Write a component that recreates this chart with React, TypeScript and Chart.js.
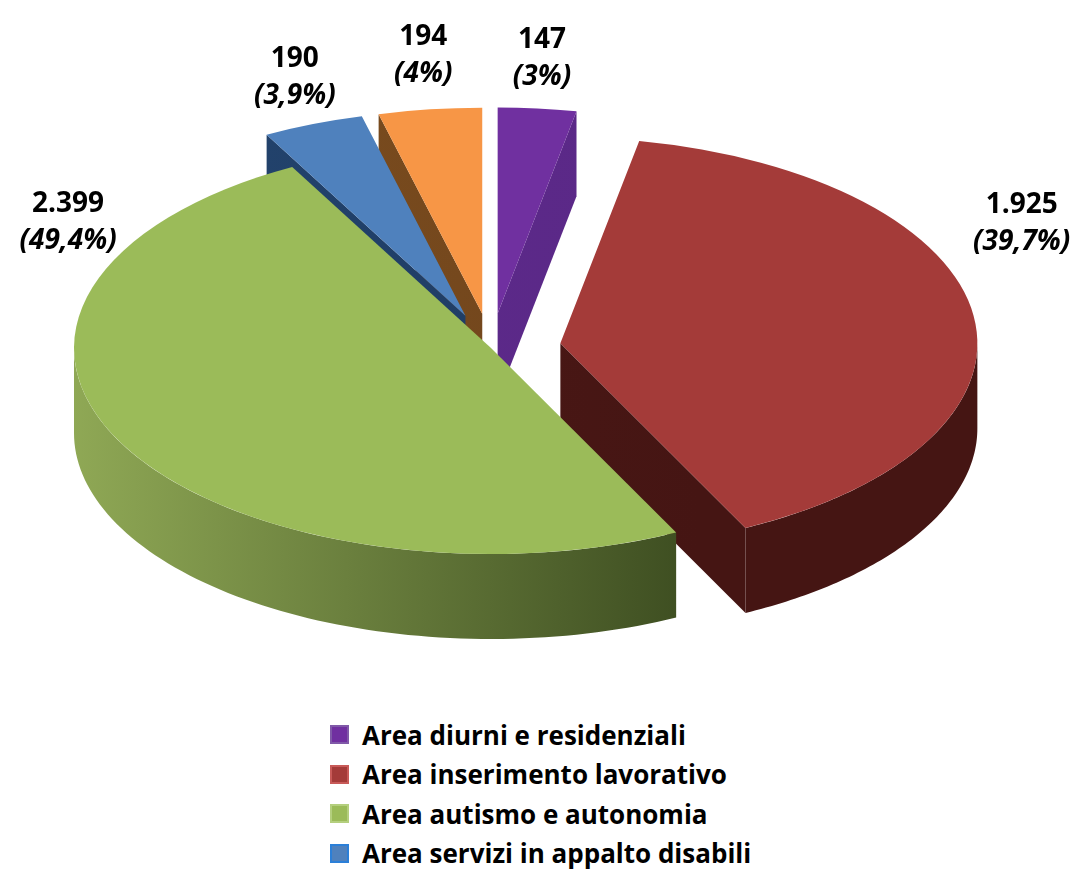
import React, { useEffect, useRef } from "react";
import { Chart, registerables } from "chart.js";

Chart.register(...registerables);

// ---------- data ----------
const categories = [
  "Area diurni e residenziali",
  "Area inserimento lavorativo",
  "Area autismo e autonomia",
  "Area servizi in appalto disabili",
  "Altro",
];
const values = [147, 1925, 2399, 190, 194];
const pctLabels = ["3%", "39,7%", "49,4%", "3,9%", "4%"];
const inLegend = [true, true, true, true, false];

// ---------- style ----------
const topColors = ["#7030A0", "#A43B39", "#9BBB59", "#4F81BD", "#F79646"];
const sideLight = ["#5E2B8E", "#501B19", "#8FA855", "#244570", "#80501F"];
const sideDark = ["#5A2886", "#451513", "#3C4C20", "#1D3A60", "#6E431C"];
const legendBorders = ["#8059A8", "#C85A58", "#B4CF7E", "#2B7FD8", "#F9A868"];
const explode = [70, 70, 0, 70, 70];
const drawLast = 2; // the big front slice is painted over the small ones
const labelAngleDeg: (number | null)[] = [null, 66, 298, null, null];
const labelGap = [50, 88, 62, 50, 54];

const FONT = "'Open Sans'";
const K = 0.494; // vertical squash of the pie (tilt)
const DEPTH = 85; // thickness in screen px
const RADIUS = 417;

function fmtNum(v: number): string {
  return String(v).replace(/\B(?=(\d{3})+(?!\d))/g, ".");
}

function shiftOf(el: any, i: number) {
  const mid = (el.startAngle + el.endAngle) / 2;
  return { tx: Math.cos(mid) * explode[i], ty: Math.sin(mid) * explode[i] };
}

function pt(el: any, s: { tx: number; ty: number }, a: number, r: number, dy = 0) {
  return {
    x: el.x + s.tx + r * Math.cos(a),
    y: el.y + (s.ty + r * Math.sin(a)) * K + dy,
  };
}

const pie3d = {
  id: "pie3d",
  beforeDatasetsDraw(chart: any) {
    const ctx = chart.ctx as CanvasRenderingContext2D;
    const meta = chart.getDatasetMeta(0);
    const els = meta.data as any[];
    const order = els
      .map((el, i) => ({ el, i, m: Math.sin((el.startAngle + el.endAngle) / 2) }))
      .sort((a, b) => a.m - b.m);

    // sides
    ctx.save();
    for (const { el, i } of order) {
      const s = shiftOf(el, i);
      const R = el.outerRadius;
      const g = ctx.createLinearGradient(el.x - R, 0, el.x + R, 0);
      g.addColorStop(0, sideLight[i]);
      g.addColorStop(0.75, sideDark[i]);
      g.addColorStop(1, sideDark[i]);
      ctx.fillStyle = g;
      const a1 = el.startAngle;
      const a2 = el.endAngle;
      const faces: number[] = [];
      if (Math.cos(a1) < -1e-6) faces.push(a1);
      if (Math.cos(a2) > 1e-6) faces.push(a2);
      for (const a of faces) {
        const c0 = pt(el, s, a, 0);
        const c1 = pt(el, s, a, R);
        ctx.beginPath();
        ctx.moveTo(c0.x, c0.y);
        ctx.lineTo(c1.x, c1.y);
        ctx.lineTo(c1.x, c1.y + DEPTH);
        ctx.lineTo(c0.x, c0.y + DEPTH);
        ctx.closePath();
        ctx.fill();
      }
      const st = Math.max(a1, 0);
      const en = Math.min(a2, Math.PI);
      if (st < en) {
        const N = 80;
        ctx.beginPath();
        for (let k = 0; k <= N; k++) {
          const a = st + ((en - st) * k) / N;
          const p = pt(el, s, a, R);
          if (k === 0) ctx.moveTo(p.x, p.y);
          else ctx.lineTo(p.x, p.y);
        }
        for (let k = N; k >= 0; k--) {
          const a = st + ((en - st) * k) / N;
          const p = pt(el, s, a, R, DEPTH);
          ctx.lineTo(p.x, p.y);
        }
        ctx.closePath();
        ctx.fill();
      }
    }
    ctx.restore();

    // tops, drawn by the arc elements under a squash transform
    const cx = els[0].x;
    const cy = els[0].y;
    ctx.save();
    ctx.translate(cx, cy);
    ctx.scale(1, K);
    ctx.translate(-cx, -cy);
    const seq = els.map((_, i) => i).filter((i) => i !== drawLast).concat([drawLast]);
    for (const i of seq) {
      const el = els[i];
      const s = shiftOf(el, i);
      ctx.save();
      ctx.translate(s.tx, s.ty);
      el.draw(ctx, chart.chartArea);
      ctx.restore();
    }
    ctx.restore();
    return false;
  },
  afterDraw(chart: any) {
    const ctx = chart.ctx as CanvasRenderingContext2D;
    const els = chart.getDatasetMeta(0).data as any[];
    ctx.save();
    ctx.fillStyle = "#000";
    ctx.textAlign = "center";
    ctx.textBaseline = "middle";
    els.forEach((el: any, i: number) => {
      const s = shiftOf(el, i);
      const mid = (el.startAngle + el.endAngle) / 2;
      const a =
        labelAngleDeg[i] == null ? mid : ((labelAngleDeg[i] as number) - 90) * (Math.PI / 180);
      const p = pt(el, s, a, el.outerRadius);
      const x = p.x + labelGap[i] * Math.cos(a);
      const y = p.y + labelGap[i] * Math.sin(a);
      ctx.font = `bold 28px ${FONT}`;
      ctx.fillText(fmtNum(values[i]), x, y - 18.5);
      ctx.font = `italic bold 28px ${FONT}`;
      ctx.fillText(`(${pctLabels[i]})`, x, y + 18.5);
    });
    ctx.restore();
  },
};

export default function App() {
  const ref = useRef<HTMLCanvasElement | null>(null);
  useEffect(() => {
    if (!ref.current) return;
    const chart = new Chart(ref.current, {
      type: "pie",
      data: {
        labels: categories,
        datasets: [
          {
            data: values,
            backgroundColor: topColors,
            borderWidth: 0,
            clip: false as any,
            radius: RADIUS,
          } as any,
        ],
      },
      options: {
        responsive: false,
        animation: false,
        events: [],
        layout: { padding: { left: 0, right: 96, top: 0, bottom: 4 } },
        plugins: {
          legend: { display: false },
          tooltip: { enabled: false },
        },
      } as any,
      plugins: [pie3d],
    });
    return () => chart.destroy();
  }, []);

  return (
    <div style={{ position: "absolute", left: 0, top: 0, width: 1078, height: 871, background: "#fff" }}>
      <canvas ref={ref} width={1078} height={700} style={{ position: "absolute", left: 0, top: 0 }} />
      <div
        style={{
          position: "absolute",
          left: 330,
          top: 715,
          fontFamily: FONT,
          fontWeight: "bold",
          fontSize: 26,
          color: "#000",
        }}
      >
        {categories.map((c, i) =>
          inLegend[i] ? (
            <div key={c} style={{ display: "flex", alignItems: "center", height: 39.5, whiteSpace: "nowrap" }}>
              <span
                style={{
                  display: "inline-block",
                  width: 15,
                  height: 15,
                  background: topColors[i],
                  border: `2px solid ${legendBorders[i]}`,
                  marginRight: 13,
                }}
              />
              <span>{c}</span>
            </div>
          ) : null
        )}
      </div>
    </div>
  );
}
